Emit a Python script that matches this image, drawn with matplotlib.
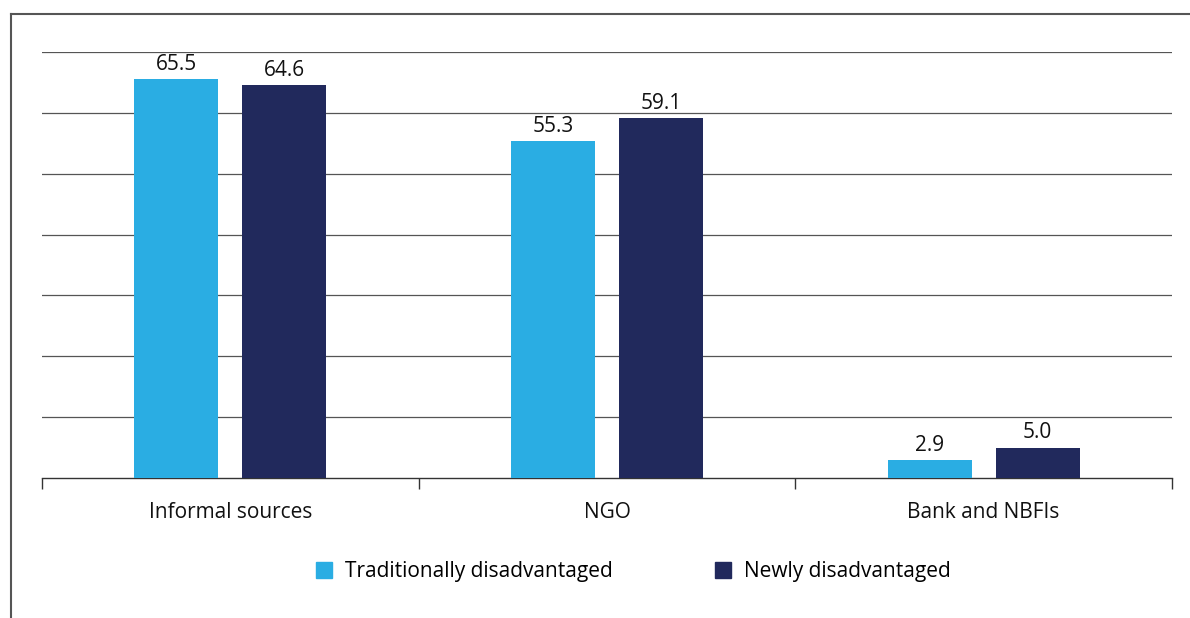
import matplotlib.pyplot as plt
import numpy as np
from matplotlib.lines import Line2D
from matplotlib.patches import Patch

categories = ['Informal sources', 'NGO', 'Bank and NBFIs']
traditional = [65.5, 55.3, 2.9]
newly = [64.6, 59.1, 5.0]
series_names = ['Traditionally disadvantaged', 'Newly disadvantaged']

light = '#2aade3'
dark = '#21295c'

plt.rcParams['font.family'] = ['Open Sans', 'DejaVu Sans']

fig = plt.figure(figsize=(11.9, 6.18), dpi=100)
ax = fig.add_axes([42 / 1190, 1 - 478 / 618, (1172 - 42) / 1190, (478 - 52) / 618])

x = np.arange(len(categories))
w = 0.223
off = 0.143
b1 = ax.bar(x - off, traditional, w, color=light, zorder=3)
b2 = ax.bar(x + off, newly, w, color=dark, zorder=3)

for bars, vals in ((b1, traditional), (b2, newly)):
    for rect, v in zip(bars, vals):
        ax.text(rect.get_x() + rect.get_width() / 2, v + 0.7, f'{v:.1f}',
                ha='center', va='bottom', fontsize=15, color='#111111')

ax.set_xlim(-0.5, 2.5)
ax.set_ylim(0, 70)
ax.set_yticks(np.arange(10, 71, 10))
ax.yaxis.grid(True, color='#555555', linewidth=0.9, zorder=0)
ax.tick_params(axis='y', left=False, labelleft=False)
for s in ('top', 'right', 'left'):
    ax.spines[s].set_visible(False)
ax.spines['bottom'].set_color('#333333')
ax.spines['bottom'].set_linewidth(1.0)

# category boundary ticks, labels centred in between
ax.set_xticks([-0.5, 0.5, 1.5, 2.5])
ax.set_xticks(x, minor=True)
ax.set_xticklabels([])
ax.set_xticklabels(categories, minor=True, fontsize=15, color='#111111')
ax.tick_params(axis='x', which='major', direction='out', length=8, width=1, color='#333333')
ax.tick_params(axis='x', which='minor', length=0, pad=17)

handles = [Patch(color=light), Patch(color=dark)]
fig.legend(handles, series_names, loc='center', bbox_to_anchor=(633 / 1190, 1 - 572 / 618),
           ncol=2, frameon=False, fontsize=15, handlelength=0.8, handleheight=0.8,
           handletextpad=0.6, columnspacing=4.9)

# outer frame lines (left and top)
fig.add_artist(Line2D([11 / 1190, 11 / 1190], [0, 1 - 14 / 618], transform=fig.transFigure,
                      color='#555555', linewidth=1.5))
fig.add_artist(Line2D([11 / 1190, 1], [1 - 14 / 618, 1 - 14 / 618], transform=fig.transFigure,
                      color='#555555', linewidth=1.5))

fig.savefig('out.png', dpi=100)
